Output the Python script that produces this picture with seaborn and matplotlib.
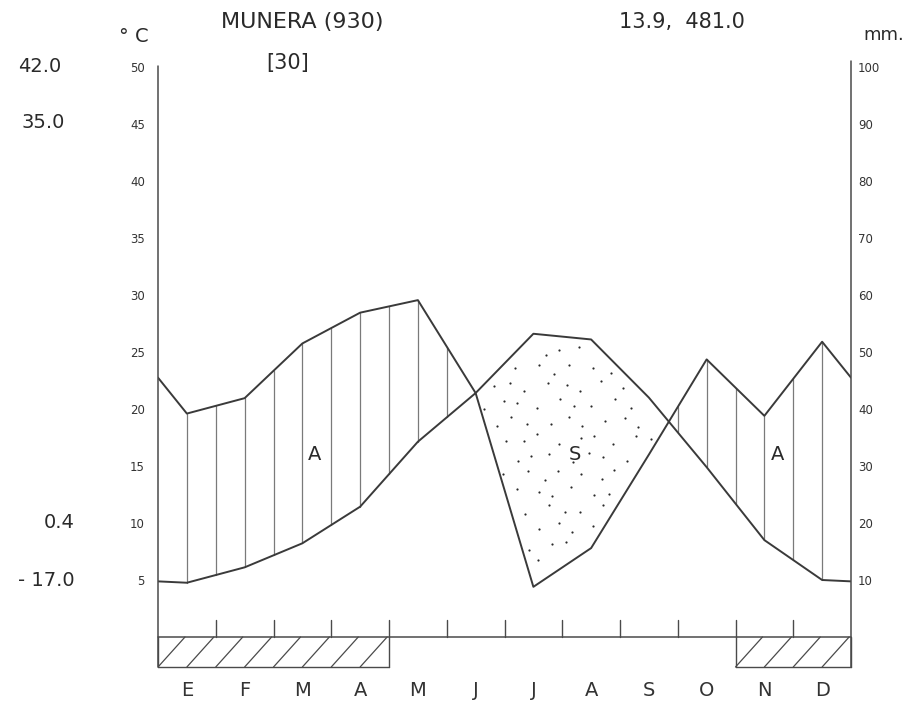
import numpy as np
import pandas as pd
import matplotlib
matplotlib.use("Agg")
import matplotlib.pyplot as plt
import seaborn as sns

# ---------------- data ----------------
months = ["E", "F", "M", "A", "M", "J", "J", "A", "S", "O", "N", "D"]
temp_c = [4.76, 6.11, 8.22, 11.43, 17.13, 21.4, 26.6, 26.1, 21.0, 14.9, 8.5, 5.0]
precip_mm = [39.2, 41.9, 51.5, 56.9, 59.1, 42.8, 8.8, 15.6, 32.0, 48.7, 38.8, 51.8]
frost = [True, True, True, True, False, False, False, False, False, False, True, True]
temp_ticks = [5, 10, 15, 20, 25, 30, 35, 40, 45, 50]
precip_ticks = [10, 20, 30, 40, 50, 60, 70, 80, 90, 100]
station = "MUNERA (930)"
years = "[30]"
annual = "13.9,  481.0"
left_values = ["42.0", "35.0", "0.4", "- 17.0"]
zone_labels = ["A", "S", "A"]

# ---------------- geometry helpers ----------------
W, H = 909, 701
PX_PER_C = 11.4
Y0 = 637  # pixel row of 0 degC


def fx(px):
    return px / W


def fy(py):
    return 1 - py / H


sns.set_theme(style="white")
plt.rcParams["font.family"] = ["DejaVu Sans"]

fig = plt.figure(figsize=(W / 100, H / 100), dpi=100)
ax_top_px, ax_bot_px = 50, 670
ax = fig.add_axes([fx(158), fy(ax_bot_px), (851 - 158) / W, (ax_bot_px - ax_top_px) / H])
ax.set_xlim(0, 12)
ax.set_ylim((Y0 - ax_bot_px) / PX_PER_C, (Y0 - ax_top_px) / PX_PER_C)
sns.despine(ax=ax, left=True, bottom=True, right=True, top=True)

LINE = "#3a3a3a"
HATCH = "#7a7a7a"
AXC = "#4a4a4a"

# extended series (edges = mean of Dec and Jan)
t = np.array(temp_c)
p = np.array(precip_mm) / 2.0
xe = np.concatenate([[0.0], np.arange(12) + 0.5, [12.0]])
te = np.concatenate([[(t[0] + t[-1]) / 2], t, [(t[0] + t[-1]) / 2]])
pe = np.concatenate([[(p[0] + p[-1]) / 2], p, [(p[0] + p[-1]) / 2]])

df = pd.DataFrame({"x": np.concatenate([xe, xe]),
                   "y": np.concatenate([te, pe]),
                   "serie": ["T"] * len(xe) + ["P"] * len(xe)})

# humid hatching: vertical lines every half month where precip > temp
for k in range(1, 24):
    xk = k * 0.5
    tk = np.interp(xk, xe, te)
    pk = np.interp(xk, xe, pe)
    if pk > tk + 0.05:
        ax.plot([xk, xk], [tk, pk], color=HATCH, lw=0.9, zorder=2)

# dry stippling: loosely staggered dot pattern inside area where temp > precip
gx_list, gy_list = [], []
row = 0
for gy in np.arange(0.3, 40.0, 1.55):
    off = (row * 0.137) % 0.32
    for n, gx in enumerate(np.arange(0.0, 12.0, 0.32) + off):
        yy = gy + 0.45 * np.sin(n * 2.3 + row * 1.7)
        xx = gx + 0.06 * np.cos(n * 1.9 + row * 0.8)
        tk = np.interp(xx, xe, te)
        pk = np.interp(xx, xe, pe)
        if pk + 0.8 < yy < tk - 0.8:
            gx_list.append(xx)
            gy_list.append(yy)
    row += 1
ax.scatter(gx_list, gy_list, s=2.5, color="#2a2a2a", linewidths=0, zorder=2)

sns.lineplot(data=df, x="x", y="y", hue="serie", palette={"T": LINE, "P": LINE},
             estimator=None, sort=False, legend=False, lw=1.4, ax=ax, zorder=3)

# axes lines
ybot = -30 / PX_PER_C
ytop = (Y0 - 66) / PX_PER_C
ax.plot([0, 0], [ybot, ytop], color=AXC, lw=1.1, zorder=3, clip_on=False)
ax.plot([12, 12], [ybot, ytop + 0.4], color=AXC, lw=1.1, zorder=3, clip_on=False)
ax.plot([0, 12], [0, 0], color=AXC, lw=1.1, zorder=3, clip_on=False)

# month boundary ticks
for b in range(1, 12):
    ax.plot([b, b], [0, 1.5], color=AXC, lw=1.0, zorder=3)

# frost bar
i = 0
while i < 12:
    if frost[i]:
        j = i
        while j < 12 and frost[j]:
            j += 1
        x0, x1 = i, j
        ax.plot([x0, x1], [ybot, ybot], color=AXC, lw=1.0, clip_on=False)
        ax.plot([x0, x0], [ybot, 0], color=AXC, lw=1.0, clip_on=False)
        ax.plot([x1, x1], [ybot, 0], color=AXC, lw=1.0, clip_on=False)
        dx = 27 / 57.75
        for k in range(int((x1 - x0) * 2)):
            xs = x0 + k * 0.5
            xe2 = min(xs + dx, x1)
            ye2 = ybot + (xe2 - xs) / dx * (0 - ybot)
            ax.plot([xs, xe2], [ybot, ye2], color=AXC, lw=0.9)
        i = j
    else:
        i += 1

# ticks / labels
ax.set_yticks(temp_ticks)
ax.set_yticklabels([str(v) for v in temp_ticks])
ax.tick_params(axis="y", length=0, pad=9.5, labelsize=8.5, labelcolor="#333333")
ax.set_xticks(np.arange(12) + 0.5)
ax.set_xticklabels(months)
ax.tick_params(axis="x", length=0, pad=8, labelsize=14, labelcolor="#333333")

sec = ax.secondary_yaxis("right", functions=(lambda v: 2 * v, lambda v: v / 2))
sec.set_yticks(precip_ticks)
sec.set_yticklabels([str(v) for v in precip_ticks])
sec.tick_params(axis="y", length=0, pad=5, labelsize=8.5, labelcolor="#333333")
for s in sec.spines.values():
    s.set_visible(False)
ax.set_xlabel("")
ax.set_ylabel("")

TXT = "#2a2a2a"
fig.text(fx(302), fy(22), station, ha="center", va="center", fontsize=16, color=TXT)
fig.text(fx(288), fy(63), years, ha="center", va="center", fontsize=15, color=TXT)
fig.text(fx(682), fy(22), annual, ha="center", va="center", fontsize=15, color=TXT)
fig.text(fx(134), fy(37), "° C", ha="center", va="center", fontsize=14, color=TXT)
fig.text(fx(884), fy(35), "mm.", ha="center", va="center", fontsize=13, color=TXT)

for lbl, py, px in zip(left_values, [66, 122, 523, 580], [40, 43, 59, 46]):
    fig.text(fx(px), fy(py), lbl, ha="center", va="center", fontsize=14, color=TXT)

for lbl, (px, py) in zip(zone_labels, [(315, 454), (575, 454), (778, 454)]):
    fig.text(fx(px), fy(py), lbl, ha="center", va="center", fontsize=14, color=TXT)

fig.savefig("out.png", dpi=100)
